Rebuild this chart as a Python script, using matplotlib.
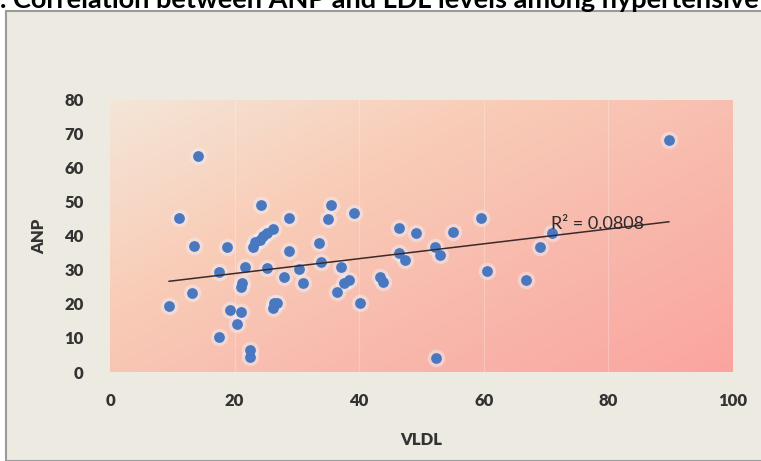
import numpy as np
import matplotlib
matplotlib.use('Agg')
import matplotlib.pyplot as plt
from matplotlib.colors import LinearSegmentedColormap
from matplotlib.patches import Rectangle

# VLDL (x) vs ANP (y)
vldl = [14.1, 11.1, 13.5, 13.1, 9.5, 18.7, 17.5, 17.5, 19.3, 21.0,
        20.4, 21.6, 21.2, 21.0, 22.4, 22.4, 24.3, 22.9, 23.3, 24.1,
        24.6, 25.2, 26.1, 25.2, 28.7, 28.8, 28.0, 26.4, 26.8, 26.2,
        30.3, 30.9, 33.5, 33.8, 35.4, 35.0, 39.1, 37.0, 38.3, 37.5,
        36.5, 40.1, 43.3, 43.9, 46.4, 49.1, 46.4, 47.4, 55.0, 59.5,
        52.2, 52.9, 60.5, 66.7, 69.0, 70.9, 89.7, 52.3]
anp = [63.6, 45.2, 37.1, 23.3, 19.4, 36.9, 29.3, 10.4, 18.2, 17.7,
       14.0, 30.8, 26.2, 25.1, 6.5, 4.5, 49.1, 36.9, 38.3, 38.8,
       40.0, 40.8, 42.1, 30.5, 45.2, 35.7, 28.0, 20.4, 20.4, 18.7,
       30.3, 26.1, 38.0, 32.4, 49.1, 44.9, 46.7, 31.0, 27.1, 26.3,
       23.4, 20.2, 28.0, 26.6, 42.3, 40.8, 34.9, 32.9, 41.3, 45.2,
       36.9, 34.4, 29.8, 27.1, 36.9, 40.8, 68.2, 4.2]
r2_label = 'R² = 0.0808'
title = '. Correlation between ANP and LDL levels among hypertensive'

plt.rcParams['font.family'] = ['Lato', 'DejaVu Sans']

W, H = 761, 461
fig = plt.figure(figsize=(W / 100, H / 100), dpi=100, facecolor='white')

# chart frame
fig.patches.append(Rectangle((6 / W, 0), 1, 1 - 11 / H, transform=fig.transFigure,
                             facecolor='#edeae2', edgecolor='#9a9a9a', lw=1.5, zorder=-5))
fig.text(0.0, 1 - 8 / H, title, fontsize=19.5, fontweight='bold', ha='left',
         va='baseline', color='black')

ax = fig.add_axes([110 / W, 1 - 372 / H, 623 / W, 272 / H], zorder=2)
ax.set_xlim(0, 100)
ax.set_ylim(0, 80)

# diagonal gradient background
cmap = LinearSegmentedColormap.from_list('bg', ['#f4e6d8', '#f9cdb8', '#f8b8ac', '#fba4a0'])
gx, gy = np.meshgrid(np.linspace(0, 1, 200), np.linspace(1, 0, 200))
grad = 0.55 * gx + 0.45 * (1 - gy)
ax.imshow(grad, extent=[0, 100, 0, 80], aspect='auto', cmap=cmap, zorder=0)

for xv in [20, 40, 60, 80]:
    ax.axvline(xv, color='white', lw=0.8, alpha=0.25, zorder=1)

# glow + markers
ax.scatter(vldl, anp, s=160, color='#eef0fa', alpha=0.45, lw=0, zorder=2)
ax.scatter(vldl, anp, s=60, color='#4a78c0', lw=0, zorder=3)

# linear trend line
b, a = np.polyfit(vldl, anp, 1)
xs = np.array([min(vldl), max(vldl)])
ax.plot(xs, b * xs + a, color='#3a2a28', lw=1.1, zorder=4)
ax.text(70.8, 43.6, r2_label, fontsize=13, color='#2a2a2a', va='center', ha='left', zorder=5)

for s in ax.spines.values():
    s.set_visible(False)
ax.set_xticks([0, 20, 40, 60, 80, 100])
ax.set_yticks(range(0, 81, 10))
ax.tick_params(length=0, labelsize=12, labelcolor='#333333', pad=15)
ax.tick_params(axis='y', pad=19)
for lab in ax.get_xticklabels() + ax.get_yticklabels():
    lab.set_fontweight('heavy')
ax.set_xlabel('VLDL', fontsize=12, fontweight='heavy', color='#333333', labelpad=17)
ax.set_ylabel('ANP', fontsize=12, fontweight='heavy', color='#333333', labelpad=12)

fig.savefig('out.png', dpi=100, facecolor=fig.get_facecolor())
